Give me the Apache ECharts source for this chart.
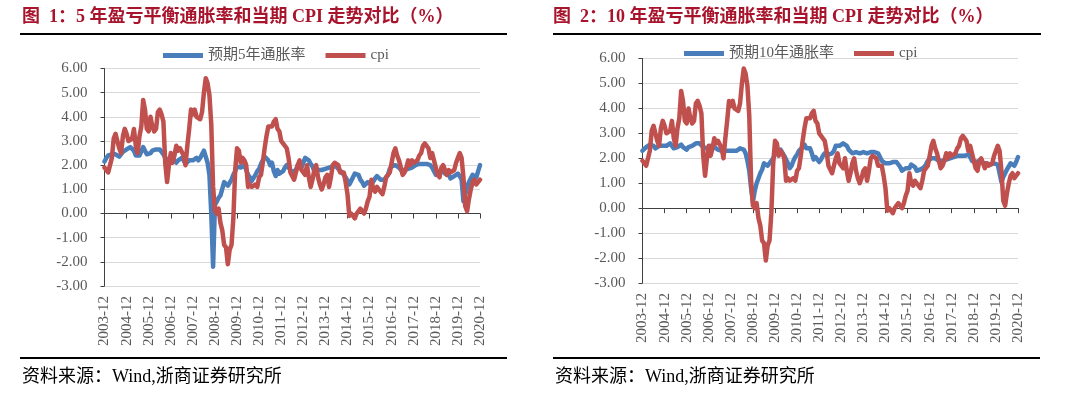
<!DOCTYPE html>
<html>
<head>
<meta charset="utf-8">
<script src="https://cdn.jsdelivr.net/npm/echarts@6/dist/echarts.min.js"></script>
<style>
html,body{margin:0;padding:0;background:#fff;}
#c{width:1080px;height:394px;}
</style>
</head>
<body>
<div id="c"></div>
<script>
// ---- data ----
const yearTicks = ['2003','2004','2005','2006','2007','2008','2009','2010','2011','2012','2013','2014','2015','2016','2017','2018','2019','2020'];
const titles = ['图  1：5 年盈亏平衡通胀率和当期 CPI 走势对比（%）', '图  2：10 年盈亏平衡通胀率和当期 CPI 走势对比（%）'];
const seriesNames1 = ['预期5年通胀率', 'cpi'];
const seriesNames2 = ['预期10年通胀率', 'cpi'];
const sourceText = '资料来源：Wind,浙商证券研究所';

// monthly, first value = 2003-12, then Jan..Dec of each year 2004..2020
const cpi = [1.9,
  1.9,1.7,1.7,2.3,3.1,3.3,3.0,2.7,2.5,3.2,3.5,3.3,
  3.0,3.0,3.1,3.5,2.8,2.5,3.2,3.6,4.7,4.3,3.5,3.4,
  4.0,3.6,3.4,3.5,4.2,4.3,4.1,3.8,2.1,1.3,2.0,2.5,
  2.1,2.4,2.8,2.6,2.7,2.7,2.4,2.0,2.8,3.5,4.3,4.1,
  4.3,4.0,4.0,3.9,4.2,5.0,5.6,5.4,4.9,3.7,1.1,0.1,
  0.0,0.2,-0.4,-0.7,-1.3,-1.4,-2.1,-1.5,-1.3,-0.2,1.8,2.7,
  2.6,2.1,2.3,2.2,2.0,1.1,1.2,1.1,1.1,1.2,1.1,1.5,
  1.6,2.1,2.7,3.2,3.6,3.6,3.6,3.8,3.9,3.5,3.4,3.0,
  2.9,2.9,2.7,2.3,1.7,1.7,1.4,1.7,2.0,2.2,1.8,1.7,
  1.6,2.0,1.5,1.1,1.4,1.8,2.0,1.5,1.2,1.0,1.2,1.5,
  1.6,1.1,1.5,2.0,2.1,2.1,2.0,1.7,1.7,1.7,1.3,0.8,
  -0.1,0.0,-0.1,-0.2,0.0,0.1,0.2,0.2,0.0,0.2,0.5,0.7,
  1.4,1.0,0.9,1.1,1.0,1.0,0.8,1.1,1.5,1.6,1.7,2.1,
  2.5,2.7,2.4,2.2,1.9,1.6,1.7,1.9,2.2,2.0,2.2,2.1,
  2.1,2.2,2.4,2.5,2.8,2.9,2.9,2.7,2.3,2.5,2.2,1.9,
  1.6,1.5,1.9,2.0,1.8,1.6,1.8,1.7,1.7,1.8,2.1,2.3,
  2.5,2.3,1.5,0.3,0.1,0.6,1.0,1.3,1.4,1.2,1.2,1.4];

const be5 = [2.15,
  2.3,2.4,2.35,2.45,2.5,2.45,2.4,2.35,2.4,2.55,2.6,2.65,
  2.7,2.75,2.8,2.6,2.4,2.35,2.4,2.45,2.75,2.6,2.45,2.4,
  2.5,2.6,2.65,2.65,2.6,2.65,2.6,2.45,2.3,2.3,2.2,2.25,
  2.25,2.2,2.1,2.2,2.25,2.3,2.2,2.05,2.0,2.2,2.25,2.2,
  2.25,2.3,2.2,2.3,2.45,2.6,2.35,2.1,1.6,0.0,-2.2,0.35,
  0.5,0.65,0.75,0.8,1.3,1.35,1.15,1.2,1.4,1.6,1.75,1.95,
  1.95,1.9,1.95,2.0,1.8,1.6,1.5,1.35,1.4,1.6,1.75,1.85,
  2.05,2.2,2.35,2.4,2.2,2.0,2.1,1.75,1.55,1.8,1.65,1.6,
  1.75,1.9,2.0,1.95,1.8,1.7,1.75,1.8,2.0,1.95,1.9,2.1,
  2.3,2.35,2.2,2.05,1.95,1.75,1.8,1.8,1.75,1.8,1.8,1.85,
  1.85,1.9,1.95,1.95,2.0,1.95,1.85,1.8,1.7,1.6,1.5,1.35,
  1.2,1.35,1.5,1.65,1.7,1.6,1.4,1.3,1.15,1.2,1.3,1.25,
  1.2,1.2,1.45,1.55,1.5,1.4,1.35,1.4,1.45,1.6,1.85,1.95,
  2.0,2.0,1.95,1.9,1.8,1.75,1.8,1.85,1.85,1.9,1.9,1.95,
  2.0,2.05,2.05,2.1,2.05,2.05,2.05,2.0,2.0,1.9,1.75,1.6,
  1.6,1.7,1.75,1.75,1.65,1.6,1.6,1.45,1.5,1.55,1.6,1.65,
  1.55,1.4,0.5,0.8,1.1,1.3,1.35,1.6,1.6,1.5,1.75,2.0];

const be10 = [2.3,
  2.35,2.45,2.5,2.55,2.6,2.5,2.4,2.45,2.5,2.45,2.5,2.55,
  2.5,2.55,2.6,2.5,2.4,2.35,2.45,2.5,2.55,2.45,2.4,2.35,
  2.45,2.5,2.5,2.55,2.6,2.65,2.6,2.55,2.45,2.45,2.4,2.45,
  2.5,2.45,2.45,2.4,2.35,2.3,2.3,2.3,2.3,2.35,2.3,2.35,
  2.3,2.35,2.3,2.35,2.4,2.47,2.35,2.2,1.9,1.5,0.8,0.25,
  0.7,1.0,1.2,1.4,1.55,1.8,1.75,1.7,1.75,1.9,2.0,2.15,
  2.25,2.3,2.35,2.4,2.1,1.95,1.8,1.6,1.7,1.9,2.05,2.15,
  2.3,2.35,2.45,2.55,2.4,2.35,2.4,2.2,1.95,2.05,2.0,1.85,
  1.95,2.1,2.2,2.25,2.15,2.1,2.2,2.3,2.5,2.55,2.5,2.55,
  2.6,2.55,2.5,2.35,2.3,2.2,2.2,2.25,2.2,2.2,2.2,2.25,
  2.2,2.2,2.2,2.25,2.2,2.25,2.25,2.2,2.05,1.9,1.85,1.8,
  1.8,1.8,1.85,1.85,1.85,1.85,1.75,1.65,1.5,1.5,1.6,1.55,
  1.6,1.75,1.8,1.65,1.5,1.5,1.55,1.6,1.65,1.75,1.9,1.95,
  2.0,2.0,2.0,1.95,1.9,1.85,1.9,1.9,1.95,1.95,2.0,2.0,
  2.05,2.1,2.1,2.15,2.1,2.1,2.1,2.1,2.15,2.05,1.9,1.85,
  1.85,1.85,1.9,1.9,1.8,1.75,1.8,1.75,1.75,1.8,1.8,1.8,
  1.75,1.7,1.05,1.25,1.4,1.55,1.6,1.8,1.75,1.7,1.85,2.05];

// month categories 2003-12 .. 2020-12
const months = ['2003-12'];
for (let k = 1; k < yearTicks.length; k++) {
  for (let m = 1; m <= 12; m++) months.push(yearTicks[k] + '-' + (m < 10 ? '0' + m : '' + m));
}

// ---- styling ----
const BLUE = '#4A7EBB';
const RED = '#C0504D';
const AXIS = '#404040';
const GRIDC = '#D9D9D9';
const LBL = '#595959';
const SERIF = '"Liberation Serif","Times New Roman","Noto Sans CJK SC",serif';
const TITLEC = '#A8142B';

const grids = [
  {left: 104.5, top: 68.5, width: 375.5, height: 217.5},
  {left: 642.5, top: 58.5, width: 375.5, height: 224.5}
];

function zeroAxis(gi) {
  return {
    type: 'category', gridIndex: gi, data: months, boundaryGap: false, position: 'bottom',
    axisLine: {show: true, onZero: true, lineStyle: {color: AXIS, width: 1}},
    axisTick: {show: true, interval: 11, length: 5, inside: false, lineStyle: {color: AXIS}},
    axisLabel: {show: false}, splitLine: {show: false}
  };
}
function labelAxis(gi) {
  return {
    type: 'category', gridIndex: gi, data: months, boundaryGap: false, position: 'bottom',
    axisLine: {show: false, onZero: false}, axisTick: {show: false}, splitLine: {show: false},
    axisLabel: {show: true, interval: 11, rotate: 90, margin: 10, color: LBL, fontSize: 15, fontFamily: SERIF}
  };
}
function valAxis(gi) {
  return {
    type: 'value', gridIndex: gi, min: -3, max: 6, interval: 1,
    axisLine: {show: true, lineStyle: {color: AXIS, width: 1}},
    axisTick: {show: true, length: 4, lineStyle: {color: AXIS}},
    splitLine: {show: true, lineStyle: {color: GRIDC, width: 1}},
    axisLabel: {color: LBL, fontSize: 15, fontFamily: SERIF, margin: 17, formatter: v => v.toFixed(2)}
  };
}
function line(name, data, color, xi, yi) {
  return {
    name, type: 'line', data, xAxisIndex: xi, yAxisIndex: yi, showSymbol: false, symbol: 'none',
    smooth: false, lineStyle: {color, width: 4.5, join: 'round', cap: 'round'}, itemStyle: {color},
    animation: false, emphasis: {disabled: true}
  };
}

const chart = echarts.init(document.getElementById('c'), null, {renderer: 'canvas'});
chart.setOption({
  animation: false,
  backgroundColor: '#fff',
  grid: grids,
  xAxis: [zeroAxis(0), labelAxis(0), zeroAxis(1), labelAxis(1)],
  yAxis: [valAxis(0), valAxis(1)],
  legend: [
    {data: seriesNames1, left: 158, top: 43, icon: 'rect', itemWidth: 40, itemHeight: 5, itemGap: 20,
     textStyle: {color: LBL, fontSize: 15, fontFamily: SERIF}, selectedMode: false},
    {data: seriesNames2, left: 679, top: 41, icon: 'rect', itemWidth: 40, itemHeight: 5, itemGap: 20,
     textStyle: {color: LBL, fontSize: 15, fontFamily: SERIF}, selectedMode: false}
  ],
  series: [
    line(seriesNames1[0], be5, BLUE, 0, 0),
    line(seriesNames1[1], cpi, RED, 0, 0),
    line(seriesNames2[0], be10, BLUE, 2, 1),
    line(seriesNames2[1], cpi, RED, 2, 1)
  ],
  graphic: [
    {type: 'text', x: 22, y: 17, style: {text: titles[0], fill: TITLEC, font: 'bold 18px ' + SERIF, textVerticalAlign: 'middle'}},
    {type: 'text', x: 553, y: 17, style: {text: titles[1], fill: TITLEC, font: 'bold 18px ' + SERIF, textVerticalAlign: 'middle'}},
    {type: 'line', shape: {x1: 20, y1: 34, x2: 507, y2: 34}, style: {stroke: '#000', lineWidth: 2}},
    {type: 'line', shape: {x1: 553, y1: 34, x2: 1041, y2: 34}, style: {stroke: '#000', lineWidth: 2}},
    {type: 'line', shape: {x1: 20, y1: 358, x2: 507, y2: 358}, style: {stroke: '#000', lineWidth: 2}},
    {type: 'line', shape: {x1: 553, y1: 358, x2: 1040, y2: 358}, style: {stroke: '#000', lineWidth: 2}},
    {type: 'text', x: 22, y: 377, style: {text: sourceText, fill: '#000', font: '18px ' + SERIF, textVerticalAlign: 'middle'}},
    {type: 'text', x: 555, y: 377, style: {text: sourceText, fill: '#000', font: '18px ' + SERIF, textVerticalAlign: 'middle'}}
  ]
});
</script>
</body>
</html>
